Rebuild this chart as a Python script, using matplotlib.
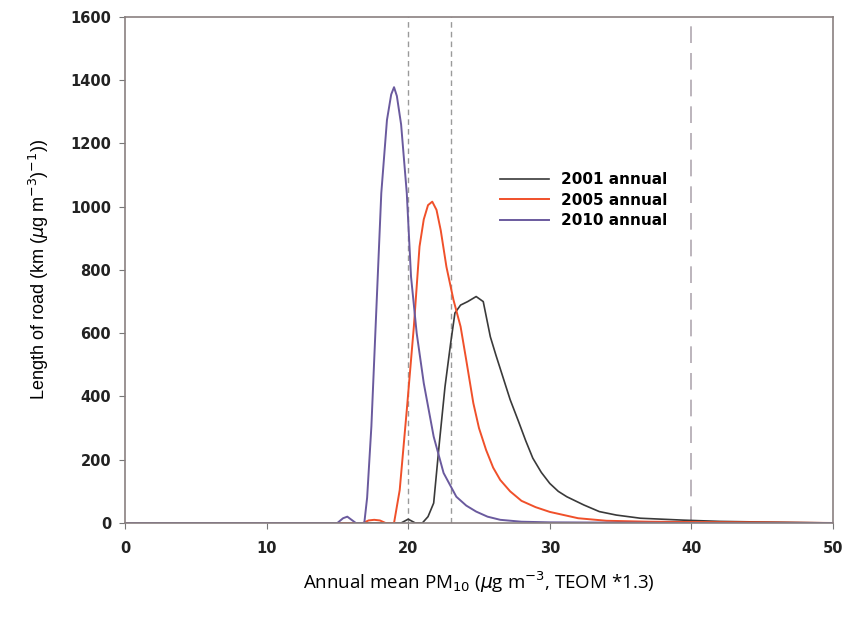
import numpy as np
import matplotlib.pyplot as plt

# Length of road per concentration bin
x_2001 = [0, 19.5, 20.0, 20.5, 21.0, 21.4, 21.8, 22.2, 22.6, 23.0, 23.3, 23.7, 24.2, 24.8, 25.3,
          25.8, 26.2, 26.7, 27.2, 27.8, 28.3, 28.8, 29.4, 30.0, 30.6, 31.2, 32.4, 33.5, 34.7, 36.4,
          39.4, 42, 45, 50]
y_2001 = [0, 0, 12, 0, 0, 20, 63, 253, 431, 569, 664, 689, 700, 716, 700,
          589, 530, 460, 390, 320, 260, 205, 160, 125, 100, 83, 57, 36, 25, 15,
          9, 5, 3, 0]

x_2005 = [0, 16.8, 17.2, 17.6, 18.0, 18.4, 19.0, 19.4, 19.9, 20.4, 20.8, 21.1, 21.4, 21.7, 22.0,
          22.3, 22.7, 23.2, 23.7, 24.1, 24.6, 25.0, 25.5, 26.0, 26.5, 27.2, 28.0, 29.0, 30.0,
          32.0, 34.0, 37, 40, 45, 50]
y_2005 = [0, 0, 8, 10, 8, 0, 0, 104, 357, 621, 874, 960, 1005, 1016, 990,
          925, 810, 705, 621, 515, 379, 300, 231, 175, 136, 100, 70, 50, 35,
          15, 7, 4, 3, 2, 0]

x_2010 = [0, 15.0, 15.4, 15.7, 16.0, 16.3, 16.9, 17.1, 17.4, 17.8, 18.1, 18.5, 18.8, 19.0, 19.2,
          19.5, 19.9, 20.2, 20.6, 21.1, 21.8, 22.5, 23.4, 24.1, 24.8, 25.6, 26.5, 28, 30, 35, 40, 50]
y_2010 = [0, 0, 15, 20, 10, 0, 0, 80, 305, 727, 1043, 1274, 1355, 1378, 1350,
          1260, 1043, 779, 600, 442, 273, 158, 83, 55, 36, 20, 10, 4, 2, 1, 0, 0]

limites = [20, 23, 40]
etiquetas = ['2001 annual', '2005 annual', '2010 annual']

fig = plt.figure(figsize=(8.48, 6.24), dpi=100)
ax = fig.add_axes([0.1474, 0.1619, 0.8349, 0.8109])

# lineas de referencia
ax.axvline(limites[0], color='#9a9a9a', lw=1, ls=(0, (4, 3)), zorder=1)
ax.axvline(limites[1], color='#9a9a9a', lw=1, ls=(0, (4, 3)), zorder=1)
ax.axvline(limites[2], color='#b0a8b0', lw=1.2, ls=(0, (10, 6)), zorder=1)

ax.plot(x_2001, y_2001, color='#3a3a3a', lw=1.2, label=etiquetas[0])
ax.plot(x_2005, y_2005, color='#f0502a', lw=1.4, label=etiquetas[1])
ax.plot(x_2010, y_2010, color='#6a5a9e', lw=1.4, label=etiquetas[2])

ax.set_xlim(0, 50)
ax.set_ylim(0, 1600)
ax.set_xticks(np.arange(0, 51, 10))
ax.set_yticks(np.arange(0, 1601, 200))
ax.tick_params(direction='out', length=4, color='#777777', labelsize=10.5, pad=6)
ax.tick_params(axis='x', pad=9)
for lab in ax.get_xticklabels() + ax.get_yticklabels():
    lab.set_fontweight('bold')
    lab.set_color('#222222')
for s in ax.spines.values():
    s.set_color('#8a8080')
    s.set_linewidth(1.2)

ax.set_xlabel(r'Annual mean PM$_{10}$ ($\mu$g m$^{-3}$, TEOM *1.3)', fontsize=13.5,
              family='Open Sans', labelpad=10)
ax.set_ylabel(r'Length of road (km ($\mu$g m$^{-3}$)$^{-1}$))', fontsize=13,
              family='Liberation Sans', labelpad=14)

ax.legend(loc='upper left', bbox_to_anchor=(0.51, 0.72), frameon=False,
          handlelength=3.2, handletextpad=0.8, labelspacing=0.35,
          prop={'weight': 'bold', 'size': 11})

fig.savefig('out.png', dpi=100)
